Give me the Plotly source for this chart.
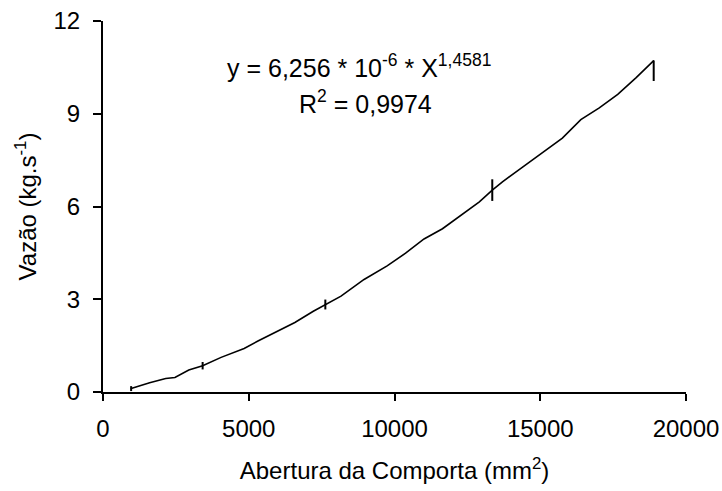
import plotly.graph_objects as go

# Curve
abertura = [965, 1600, 2152, 2468, 2943, 3418, 4051, 4842, 5316, 5949, 6582, 7215,
            7627, 8165, 8956, 9747, 10380, 11013, 11646, 12278, 12911, 13354, 13703,
            14335, 15127, 15759, 16392, 17025, 17658, 18291, 18892]
vazao = [0.11, 0.30, 0.435, 0.47, 0.71, 0.85, 1.12, 1.41, 1.65, 1.96, 2.25, 2.61,
         2.83, 3.10, 3.64, 4.08, 4.49, 4.95, 5.28, 5.71, 6.15, 6.53, 6.80,
         7.23, 7.78, 8.21, 8.81, 9.19, 9.63, 10.17, 10.72]

# Measured points with error bars
pts_x = [965, 3418, 7627, 13354, 18892]
pts_y = [0.11, 0.85, 2.83, 6.53, 10.72]
err_plus = [0.08, 0.12, 0.16, 0.35, 0.0]
err_minus = [0.08, 0.12, 0.16, 0.35, 0.66]

x_ticks = [0, 5000, 10000, 15000, 20000]
y_ticks = [0, 3, 6, 9, 12]

FONT = "Liberation Sans, Arial, sans-serif"

fig = go.Figure()
fig.add_trace(go.Scatter(x=abertura, y=vazao, mode="lines",
                         line=dict(color="black", width=1.6), showlegend=False,
                         hoverinfo="skip"))
fig.add_trace(go.Scatter(x=pts_x, y=pts_y, mode="markers",
                         marker=dict(color="black", size=1),
                         error_y=dict(type="data", array=err_plus, arrayminus=err_minus,
                                      symmetric=False, color="black", thickness=2, width=0),
                         showlegend=False))

fig.add_annotation(x=8770, y=10.55, xref="x", yref="y", showarrow=False,
                   text="y = 6,256 * 10<sup>-6</sup> * X<sup>1,4581</sup>",
                   font=dict(family=FONT, size=25, color="black"))
fig.add_annotation(x=8990, y=9.38, xref="x", yref="y", showarrow=False,
                   text="R<sup>2</sup> = 0,9974",
                   font=dict(family=FONT, size=25, color="black"))

fig.update_layout(
    width=722, height=491,
    margin=dict(l=103, r=36, t=21, b=99),
    paper_bgcolor="white", plot_bgcolor="white",
    font=dict(family=FONT, size=24, color="black"),
    xaxis=dict(range=[0, 20000], tickvals=x_ticks, ticktext=[str(v) for v in x_ticks],
               showgrid=False, zeroline=False, showline=True, linecolor="black",
               linewidth=2, ticks="outside", ticklen=7, tickwidth=2, tickcolor="black",
               ticklabelstandoff=7, automargin=False,
               title=dict(text="Abertura da Comporta (mm<sup>2</sup>)", standoff=21,
                          font=dict(family=FONT, size=24))),
    yaxis=dict(range=[0, 12], tickvals=y_ticks, ticktext=[str(v) for v in y_ticks],
               showgrid=False, zeroline=False, showline=True, linecolor="black",
               linewidth=2, ticks="outside", ticklen=8, tickwidth=2, tickcolor="black",
               ticklabelstandoff=8, automargin=False,
               title=dict(text="Vazão (kg.s<sup>-1</sup>)", standoff=10,
                          font=dict(family=FONT, size=24))),
)

fig.write_html("out.html", config={"displayModeBar": False},
               post_script="document.body.style.margin='0';")
